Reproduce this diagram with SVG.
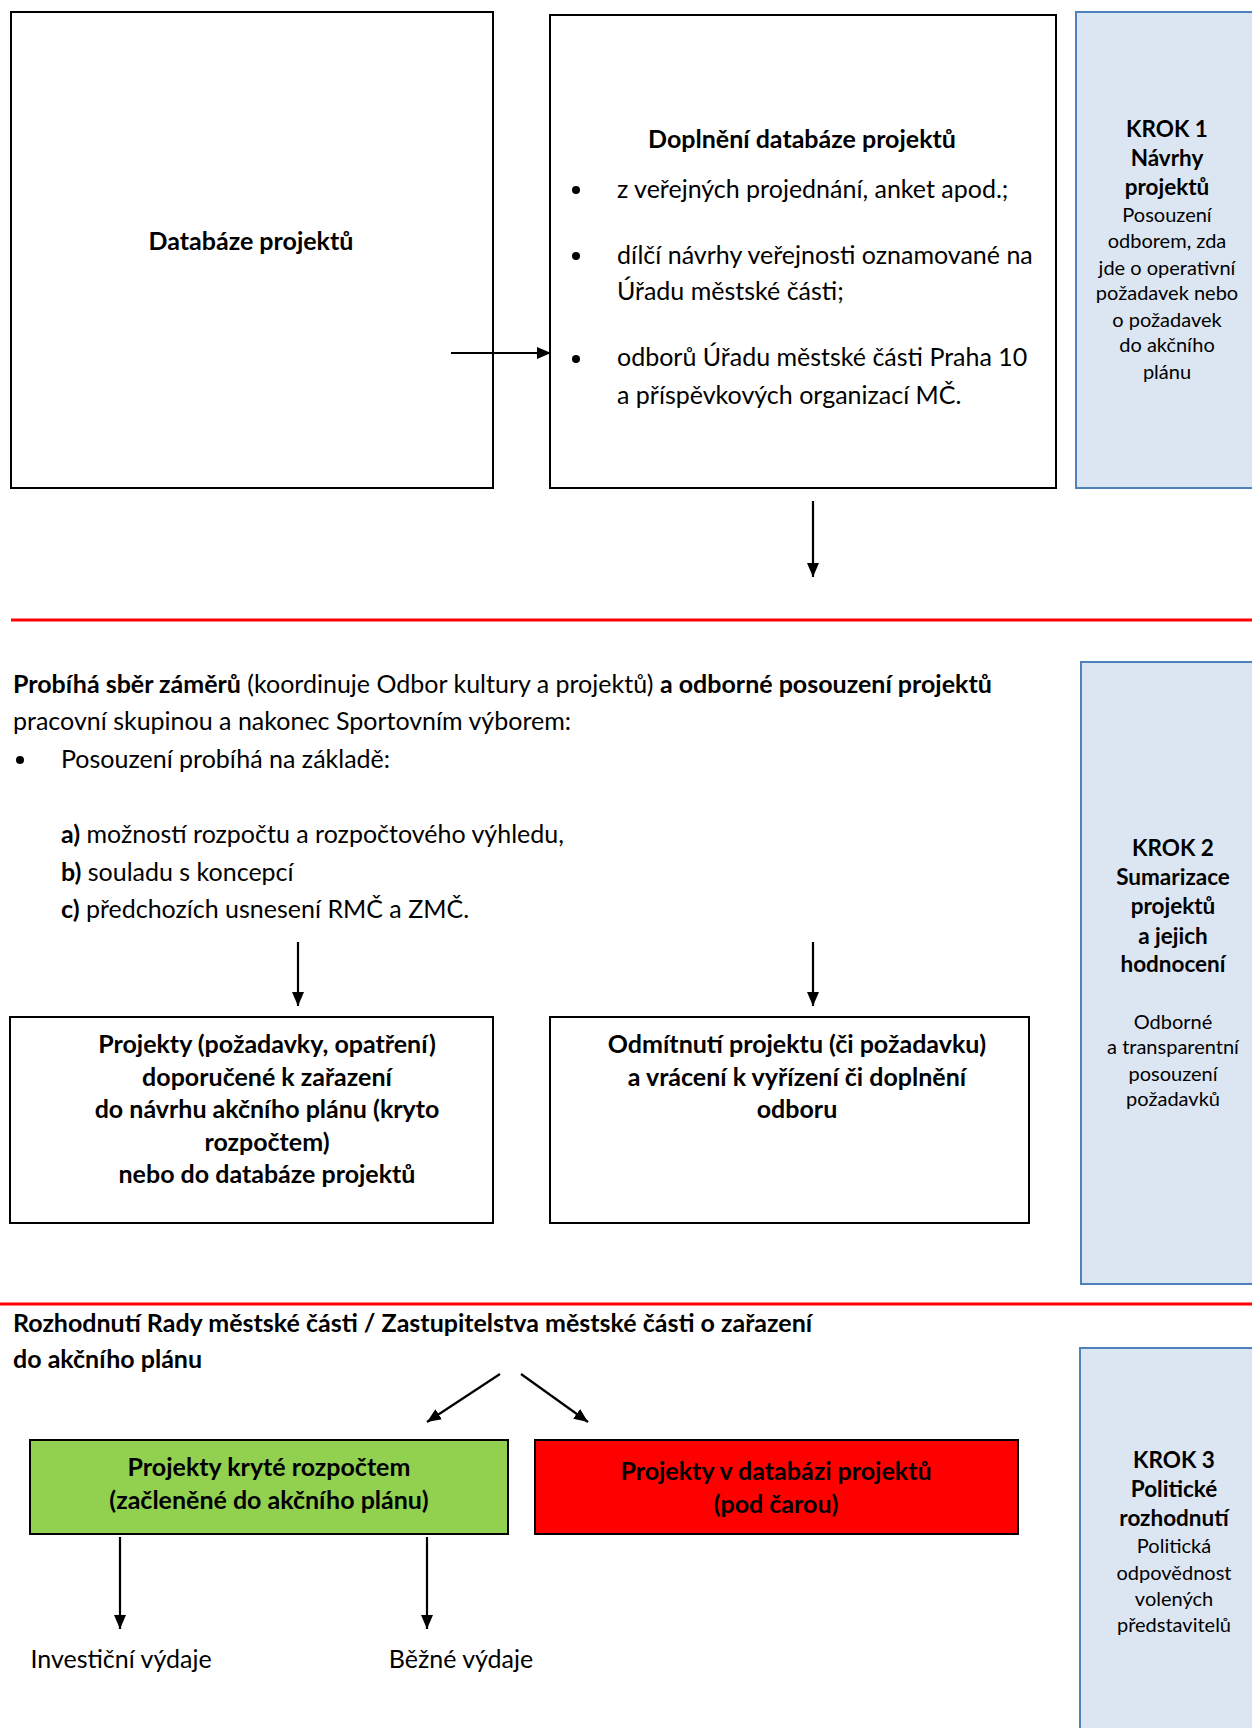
<svg xmlns="http://www.w3.org/2000/svg" width="1252" height="1728" viewBox="0 0 1252 1728">
<defs>
<marker id="ah" viewBox="0 0 14 12" refX="14" refY="6" markerWidth="14" markerHeight="12" markerUnits="userSpaceOnUse" orient="auto">
<path d="M0,0 L14,6 L0,12 Z" fill="#000"/>
</marker>
</defs>
<style>
text{font-family:Lato,"Liberation Sans",sans-serif;fill:#000;font-size:25px}
.b{font-weight:bold}
.c{text-anchor:middle}
.s{font-size:20px}
.sb{font-size:22.5px;font-weight:bold}
.box{fill:#fff;stroke:#000;stroke-width:2}
.krok{fill:#dce6f2;stroke:#4f81bd;stroke-width:2}
.ln{stroke:#000;stroke-width:2.2;fill:none;marker-end:url(#ah)}
.red{stroke:#ff0000;stroke-width:3}
</style>
<rect width="1252" height="1728" fill="#fff"/>

<g id="databaze">
<rect class="box" x="11" y="12" width="482" height="476"/>
<text class="b c" x="251" y="250">Databáze projektů</text>
</g>

<g id="doplneni">
<rect class="box" x="550" y="15" width="506" height="473"/>
<text class="b c" x="802" y="148">Doplnění databáze projektů</text>
<circle cx="576" cy="190" r="4"/>
<text x="617" y="198">z veřejných projednání, anket apod.;</text>
<circle cx="576" cy="256" r="4"/>
<text x="617" y="264">dílčí návrhy veřejnosti oznamované na</text>
<text x="617" y="300">Úřadu městské části;</text>
<circle cx="576" cy="359" r="4"/>
<text x="617" y="366">odborů Úřadu městské části Praha 10</text>
<text x="617" y="404">a příspěvkových organizací MČ.</text>
</g>

<g id="krok1">
<rect class="krok" x="1076" y="12" width="180" height="476"/>
<text class="sb c" x="1167" y="137">KROK 1</text>
<text class="sb c" x="1167" y="166">Návrhy</text>
<text class="sb c" x="1167" y="195">projektů</text>
<text class="s c" x="1167" y="222">Posouzení</text>
<text class="s c" x="1167" y="248">odborem, zda</text>
<text class="s c" x="1167" y="275">jde o operativní</text>
<text class="s c" x="1167" y="300">požadavek nebo</text>
<text class="s c" x="1167" y="327">o požadavek</text>
<text class="s c" x="1167" y="352">do akčního</text>
<text class="s c" x="1167" y="379">plánu</text>
</g>

<g id="separators">
<line class="red" x1="11" y1="620" x2="1252" y2="620"/>
<line class="red" x1="0" y1="1304" x2="1252" y2="1304"/>
</g>

<g id="sber">
<text x="13" y="693"><tspan class="b">Probíhá sběr záměrů</tspan> (koordinuje Odbor kultury a projektů) <tspan class="b">a odborné posouzení projektů</tspan></text>
<text x="13" y="730">pracovní skupinou a nakonec Sportovním výborem:</text>
<circle cx="20" cy="760" r="4"/>
<text x="61" y="768">Posouzení probíhá na základě:</text>
<text x="61" y="843"><tspan class="b">a)</tspan> možností rozpočtu a rozpočtového výhledu,</text>
<text x="61" y="881"><tspan class="b">b)</tspan> souladu s koncepcí</text>
<text x="61" y="918"><tspan class="b">c)</tspan> předchozích usnesení RMČ a ZMČ.</text>
</g>

<g id="krok2">
<rect class="krok" x="1081" y="662" width="175" height="622"/>
<text class="sb c" x="1173" y="856">KROK 2</text>
<text class="sb c" x="1173" y="885">Sumarizace</text>
<text class="sb c" x="1173" y="914">projektů</text>
<text class="sb c" x="1173" y="944">a jejich</text>
<text class="sb c" x="1173" y="972">hodnocení</text>
<text class="s c" x="1173" y="1029">Odborné</text>
<text class="s c" x="1173" y="1054">a transparentní</text>
<text class="s c" x="1173" y="1081">posouzení</text>
<text class="s c" x="1173" y="1106">požadavků</text>
</g>

<g id="doporucene">
<rect class="box" x="10" y="1017" width="483" height="206"/>
<text class="b c" x="267" y="1053">Projekty (požadavky, opatření)</text>
<text class="b c" x="267" y="1086">doporučené k zařazení</text>
<text class="b c" x="267" y="1118">do návrhu akčního plánu (kryto</text>
<text class="b c" x="267" y="1151">rozpočtem)</text>
<text class="b c" x="267" y="1183">nebo do databáze projektů</text>
</g>

<g id="odmitnuti">
<rect class="box" x="550" y="1017" width="479" height="206"/>
<text class="b c" x="797" y="1053">Odmítnutí projektu (či požadavku)</text>
<text class="b c" x="797" y="1086">a vrácení k vyřízení či doplnění</text>
<text class="b c" x="797" y="1118">odboru</text>
</g>

<g id="rozhodnuti">
<text class="b" x="13" y="1332">Rozhodnutí Rady městské části / Zastupitelstva městské části o zařazení</text>
<text class="b" x="13" y="1368">do akčního plánu</text>
</g>

<g id="kryte">
<rect x="30" y="1440" width="478" height="94" fill="#92d050" stroke="#000" stroke-width="2"/>
<text class="b c" x="269" y="1476">Projekty kryté rozpočtem</text>
<text class="b c" x="269" y="1509">(začleněné do akčního plánu)</text>
</g>

<g id="vdatabazi">
<rect x="535" y="1440" width="483" height="94" fill="#ff0000" stroke="#000" stroke-width="2"/>
<text class="b c" x="776" y="1480">Projekty v databázi projektů</text>
<text class="b c" x="776" y="1513">(pod čarou)</text>
</g>

<g id="investicni">
<text class="c" x="121" y="1668">Investiční výdaje</text>
</g>
<g id="bezne">
<text class="c" x="461" y="1668">Běžné výdaje</text>
</g>

<g id="krok3">
<rect class="krok" x="1080" y="1348" width="176" height="384"/>
<text class="sb c" x="1174" y="1468">KROK 3</text>
<text class="sb c" x="1174" y="1497">Politické</text>
<text class="sb c" x="1174" y="1526">rozhodnutí</text>
<text class="s c" x="1174" y="1553">Politická</text>
<text class="s c" x="1174" y="1580">odpovědnost</text>
<text class="s c" x="1174" y="1606">volených</text>
<text class="s c" x="1174" y="1632">představitelů</text>
</g>

<g id="connectors">
<line class="ln" x1="451" y1="353" x2="551" y2="353"/>
<line class="ln" x1="813" y1="501" x2="813" y2="577"/>
<line class="ln" x1="298" y1="942" x2="298" y2="1006"/>
<line class="ln" x1="813" y1="942" x2="813" y2="1006"/>
<line class="ln" x1="500" y1="1374" x2="427" y2="1422"/>
<line class="ln" x1="521" y1="1374" x2="588" y2="1422"/>
<line class="ln" x1="120" y1="1537" x2="120" y2="1629"/>
<line class="ln" x1="427" y1="1537" x2="427" y2="1629"/>
</g>
</svg>
